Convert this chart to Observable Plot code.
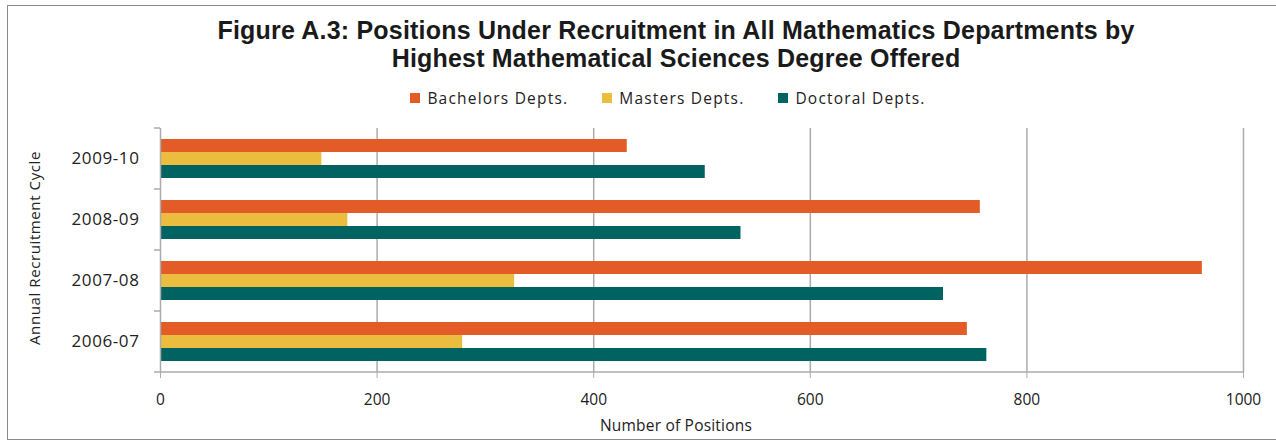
<!DOCTYPE html>
<html><head><meta charset="utf-8">
<script src="https://cdn.jsdelivr.net/npm/d3@7"></script>
<script src="https://cdn.jsdelivr.net/npm/@observablehq/plot@0.6"></script>
<style>
html,body{margin:0;padding:0;background:#fff;overflow:hidden;width:1276px;height:445px;}
body{font-family:"Open Sans",sans-serif;color:#222;position:relative;}
#border{position:absolute;left:7px;top:5px;width:1300px;height:433px;border:1px solid #8a8a8a;}
.center{position:absolute;left:0;width:1352px;text-align:center;white-space:nowrap;}
.title{font-family:"Liberation Sans",Arial,sans-serif;font-weight:bold;font-size:25px;line-height:28px;color:#1a1a1a;letter-spacing:0.2px;}
#t1{top:16px;}
#t2{top:44px;}
#legend{top:87px;left:-8px;display:flex;justify-content:center;font-size:15.5px;letter-spacing:1.2px;color:#222;}
.item{display:flex;align-items:center;margin:0 17px;}
.sw{width:10px;height:10px;margin-right:7px;}
#ylab{position:absolute;left:34px;top:248px;transform:translate(-50%,-50%) rotate(-90deg);white-space:nowrap;font-size:15px;letter-spacing:0.6px;color:#222;}
#xlab{top:414px;font-size:15.5px;letter-spacing:0.2px;color:#222;}
#chart{position:absolute;left:0;top:120px;}
#chart svg g[aria-label="fy-axis tick label"] text{letter-spacing:0.6px;}
</style>
</head><body>
<div id="border"></div>
<div id="t1" class="center title">Figure A.3: Positions Under Recruitment in All Mathematics Departments by</div>
<div id="t2" class="center title">Highest Mathematical Sciences Degree Offered</div>
<div id="legend" class="center"></div>
<div id="chart"></div>
<div id="ylab">Annual Recruitment Cycle</div>
<div id="xlab" class="center">Number of Positions</div>
<script>
const cycles = ["2009-10", "2008-09", "2007-08", "2006-07"];
const depts = ["Bachelors Depts.", "Masters Depts.", "Doctoral Depts."];
const bachelors = [431, 757, 962, 745];
const masters = [149, 173, 327, 279];
const doctoral = [503, 536, 723, 763];
const colors = ["#E35B26", "#EBBD3E", "#006361"];
const xTicks = [0, 200, 400, 600, 800, 1000];

const series = [bachelors, masters, doctoral];
const data = cycles.flatMap((c, i) => depts.map((d, j) => ({cycle: c, dept: d, value: series[j][i]})));

const legend = document.getElementById("legend");
depts.forEach((d, j) => {
  const it = document.createElement("div");
  it.className = "item";
  it.innerHTML = `<span class="sw" style="background:${colors[j]}"></span><span>${d}</span>`;
  legend.appendChild(it);
});

const grid = "#ababab";
const chart = Plot.plot({
  width: 1276, height: 320,
  marginTop: 8, marginBottom: 68, marginLeft: 160, marginRight: 33,
  style: {fontFamily: "Open Sans, sans-serif", color: "#222", background: "transparent"},
  x: {domain: [0, 1000], ticks: xTicks},
  y: {domain: depts, paddingInner: 0, paddingOuter: 0.75, axis: null},
  fy: {domain: cycles, padding: 0},
  color: {domain: depts, range: colors},
  marks: [
    Plot.gridX(xTicks.slice(1), {stroke: grid, strokeOpacity: 1, strokeWidth: 1.5}),
    Plot.barX(data, {fy: "cycle", y: "dept", x: "value", fill: "dept"}),
    Plot.ruleX([0], {stroke: grid, strokeWidth: 1.5}),
    Plot.axisX(xTicks, {tickSize: 6, tickPadding: 15, fontSize: 15.5, stroke: grid, tickFormat: d => String(d), label: null}),
    Plot.axisFy({anchor: "left", tickSize: 0, tickPadding: 21, fontSize: 17, label: null})
  ]
});
document.getElementById("chart").appendChild(chart);

// axis line and category boundary ticks from the library's scales
const xs = chart.scale("x"), fys = chart.scale("fy");
const svg = d3.select(chart);
const x0 = xs.apply(0), x1 = xs.apply(1000);
const bounds = cycles.map(c => fys.apply(c));
bounds.push(bounds[bounds.length - 1] + fys.bandwidth);
svg.append("line").attr("x1", x0).attr("x2", x1).attr("y1", bounds[bounds.length - 1]).attr("y2", bounds[bounds.length - 1])
  .attr("stroke", grid).attr("stroke-width", 1.5);
bounds.forEach(b => svg.append("line").attr("x1", x0 - 6).attr("x2", x0).attr("y1", b).attr("y2", b)
  .attr("stroke", grid).attr("stroke-width", 1.5));
</script>
</body></html>
